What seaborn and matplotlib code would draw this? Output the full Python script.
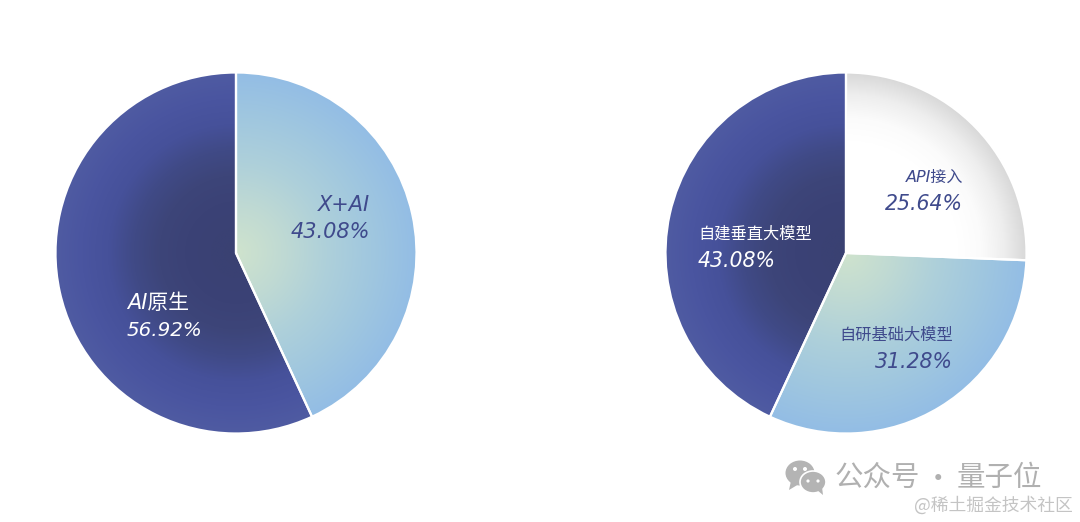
import numpy as np
import matplotlib
matplotlib.use('Agg')
import matplotlib.pyplot as plt
import matplotlib.patches as mpatches
import seaborn as sns

sns.set_theme(style='white')
plt.rcParams['font.family'] = ['DejaVu Sans', 'Noto Sans CJK SC']

LEFT_NAMES = ['X+AI', 'AI原生']
LEFT_VALUES = [43.08, 56.92]
RIGHT_NAMES = ['API接入', '自研基础大模型', '自建垂直大模型']
RIGHT_VALUES = [25.64, 31.28, 43.08]

DARK = sns.blend_palette(['#3a4172', '#3a4174', '#3b4276', '#3d4579', '#404a86', '#46519a', '#4a55a0', '#4f5ba2'], as_cmap=True)
LIGHT = sns.blend_palette(['#cfe3cd', '#c0dad3', '#aed0da', '#a0c7df', '#93bde5'], as_cmap=True)
WHITE = sns.blend_palette(['#ffffff'] * 6 + ['#fbfbfb', '#eeeeee', '#d8d8d8'], as_cmap=True)
NAVY = '#3f4a8c'

W, H = 1080, 522
fig = plt.figure(figsize=(W / 100, H / 100), dpi=100, facecolor='white')


def draw_pie(cx, cy, r, values, cmaps):
    ax = fig.add_axes([(cx - r) / W, 1 - (cy + r) / H, 2 * r / W, 2 * r / H])
    wedges, _ = ax.pie(values, startangle=90, counterclock=False, radius=1,
                       wedgeprops=dict(fc='none', ec='none'))
    yy, xx = np.mgrid[-1:1:500j, -1:1:500j]
    rad = np.hypot(xx, yy)
    for wedge, cmap in zip(wedges, cmaps):
        im = ax.imshow(rad, cmap=cmap, vmin=0, vmax=1, extent=(-1, 1, -1, 1),
                       origin='lower', zorder=1)
        im.set_clip_path(wedge)
        wedge.set(ec='white', lw=1.6, zorder=2)
    ax.set_xlim(-1, 1)
    ax.set_ylim(-1, 1)
    ax.axis('off')


def label(x, y, s, color, size, ha='left'):
    fig.text(x / W, 1 - y / H, s, color=color, fontsize=size, ha=ha, va='center',
             style='italic')


draw_pie(236, 253, 180.5, LEFT_VALUES, [LIGHT, DARK])
draw_pie(846, 253, 180.5, RIGHT_VALUES, [WHITE, LIGHT, DARK])

label(370, 205, LEFT_NAMES[0], NAVY, 15, 'right')
label(370, 232, f'{LEFT_VALUES[0]:.2f}%', NAVY, 15, 'right')
label(127, 303, LEFT_NAMES[1], 'white', 15)
label(127, 330, f'{LEFT_VALUES[1]:.2f}%', 'white', 14.3)

label(963, 177, RIGHT_NAMES[0], NAVY, 11.5, 'right')
label(963, 204, f'{RIGHT_VALUES[0]:.2f}%', NAVY, 14.8, 'right')
label(953, 335, RIGHT_NAMES[1], NAVY, 11.7, 'right')
label(953, 362, f'{RIGHT_VALUES[1]:.2f}%', NAVY, 14.8, 'right')
label(698, 234, RIGHT_NAMES[2], 'white', 11.7)
label(698, 261, f'{RIGHT_VALUES[2]:.2f}%', 'white', 14.8)

# watermark
over = fig.add_axes([0, 0, 1, 1], zorder=5)
over.set_xlim(0, W)
over.set_ylim(H, 0)
over.axis('off')
gray = '#b4b4b4'
over.add_patch(mpatches.Ellipse((800, 473), 29, 25, fc=gray, ec='none'))
over.add_patch(mpatches.Polygon([(791, 481), (789, 490), (799, 484)], fc=gray, ec='none'))
over.add_patch(mpatches.Ellipse((813, 482), 26, 22, fc=gray, ec='white', lw=1.2))
over.add_patch(mpatches.Polygon([(817, 490), (823, 495), (822, 487)], fc=gray, ec='none'))
for ex, ey, er in [(795, 469, 2), (805, 469, 2), (808, 481, 1.6), (818, 481, 1.6)]:
    over.add_patch(mpatches.Circle((ex, ey), er, fc='white', ec='none'))
cjk = ['Noto Sans CJK SC', 'DejaVu Sans']
over.text(835, 478, '公众号', color='#b0b0b0', fontsize=20.5, va='center', family=cjk)
over.text(938, 480, '·', color='#b0b0b0', fontsize=20.5, va='center', ha='center', family=cjk)
over.text(957, 478, '量子位', color='#b0b0b0', fontsize=20.5, va='center', family=cjk)
over.text(1073, 505, '@稀土掘金技术社区', color='#c4c4c4', fontsize=12.8, va='center', ha='right', family=cjk)

fig.savefig('out.png', dpi=100)
